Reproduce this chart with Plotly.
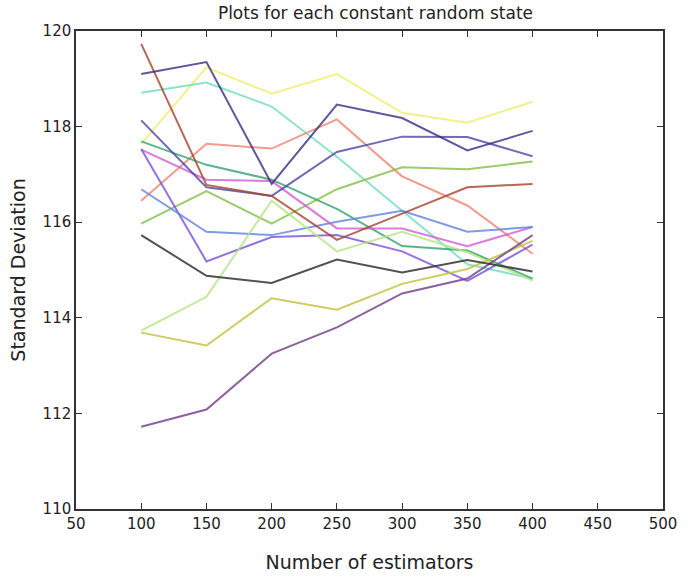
import plotly.graph_objects as go

estimators = [100, 150, 200, 250, 300, 350, 400]

brown = [119.73, 116.78, 116.55, 115.63, 116.18, 116.73, 116.80]
navy = [119.10, 119.35, 116.80, 118.46, 118.18, 117.50, 117.91]
slate = [118.13, 116.73, 116.55, 117.47, 117.79, 117.78, 117.38]
yellow = [117.64, 119.24, 118.69, 119.10, 118.29, 118.08, 118.52]
turquoise = [118.71, 118.92, 118.42, 117.37, 116.24, 115.12, 114.82]
salmon = [116.45, 117.64, 117.54, 118.15, 116.96, 116.35, 115.34]
yellowgreen = [115.97, 116.65, 115.97, 116.69, 117.15, 117.11, 117.27]
seagreen = [117.69, 117.20, 116.89, 116.28, 115.50, 115.41, 114.82]
magenta = [117.52, 116.89, 116.86, 115.87, 115.87, 115.50, 115.90]
violet = [117.53, 115.18, 115.69, 115.73, 115.39, 114.77, 115.53]
cornflower = [116.69, 115.80, 115.73, 116.01, 116.24, 115.80, 115.90]
black = [115.73, 114.88, 114.73, 115.22, 114.95, 115.21, 114.97]
lightgreen = [113.73, 114.44, 116.45, 115.39, 115.80, 115.37, 114.78]
olive = [113.69, 113.42, 114.41, 114.17, 114.71, 115.02, 115.61]
darkpurple = [111.72, 112.08, 113.25, 113.80, 114.51, 114.82, 115.73]

series = [
    (yellow, "rgba(238,238,110,0.8)"),
    (turquoise, "rgba(110,220,190,0.8)"),
    (salmon, "rgba(238,130,110,0.8)"),
    (yellowgreen, "rgba(130,190,70,0.8)"),
    (seagreen, "rgba(50,160,110,0.8)"),
    (magenta, "rgba(210,90,210,0.8)"),
    (violet, "rgba(120,80,215,0.8)"),
    (cornflower, "rgba(95,130,225,0.8)"),
    (lightgreen, "rgba(180,228,130,0.8)"),
    (olive, "rgba(195,195,70,0.85)"),
    (darkpurple, "rgba(120,70,140,0.85)"),
    (black, "rgba(50,50,50,0.85)"),
    (slate, "rgba(75,70,165,0.8)"),
    (brown, "rgba(165,65,45,0.8)"),
    (navy, "rgba(55,45,130,0.8)"),
]

fig = go.Figure()
for vals, col in series:
    fig.add_trace(go.Scatter(x=estimators, y=vals, mode="lines",
                             line=dict(color=col, width=2), showlegend=False))

axis_common = dict(showline=True, linecolor="#333", linewidth=1.5, mirror="ticks",
                   ticks="inside", ticklen=6, tickcolor="#333", showgrid=False,
                   zeroline=False, tickfont=dict(family="DejaVu Sans", size=15, color="#222"))

fig.update_xaxes(range=[50, 500], dtick=50, tick0=50,
                 title=dict(text="Number of estimators", standoff=24,
                            font=dict(family="DejaVu Sans", size=19, color="#222")),
                 **axis_common)
fig.update_yaxes(range=[110, 120], dtick=2, tick0=110,
                 title=dict(text="Standard Deviation", standoff=12,
                            font=dict(family="DejaVu Sans", size=19, color="#222")),
                 **axis_common)

fig.update_layout(
    width=689, height=582,
    margin=dict(l=76, r=16, t=31, b=59),
    plot_bgcolor="white", paper_bgcolor="white",
    title=dict(text="Plots for each constant random state", x=0.545, xanchor="center",
               y=0.978, yanchor="middle",
               font=dict(family="DejaVu Sans", size=17, color="#222")),
)

fig.write_html("out.html")
